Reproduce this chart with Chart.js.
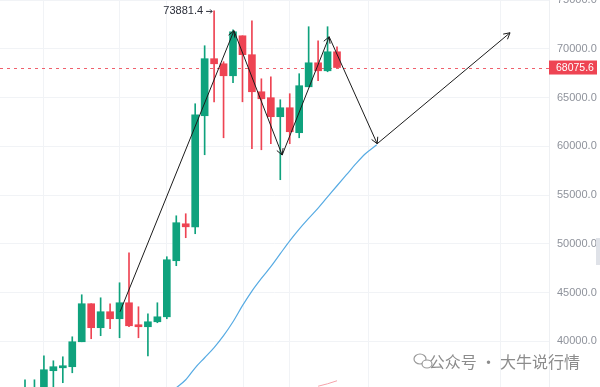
<!DOCTYPE html>
<html>
<head>
<meta charset="utf-8">
<script src="https://cdn.jsdelivr.net/npm/chart.js@4"></script>
<style>
html, body { margin: 0; padding: 0; background: #fff; }
#wrap { width: 600px; height: 387px; position: relative; }
</style>
</head>
<body>
<div id="wrap"><canvas id="chart" width="600" height="387"></canvas></div>
<script>
// candle data (index along the time axis)
const candleIdx = [0, 1, 2, 3, 4, 5, 6, 7, 8, 9, 10, 11, 12, 13, 14, 15, 16, 17, 18, 19, 20, 21, 22, 23, 24, 25, 26, 27, 28, 29, 30, 31, 32, 33];
const opens  = [34510, 34620, 34820, 36980, 37280, 37390, 39950, 43850, 41390, 43030, 42310, 43950, 41690, 41490, 42000, 42510, 48260, 52050, 51740, 63130, 68980, 68460, 67230, 71330, 69390, 65590, 64980, 63030, 63950, 61390, 66100, 68560, 67740, 69690];
const closes = [35130, 35230, 37080, 37390, 37490, 39950, 43850, 41390, 43030, 42310, 43950, 41590, 41490, 42000, 42510, 48360, 52160, 51740, 63230, 68980, 68460, 67230, 71740, 69390, 65590, 64870, 63030, 63950, 61490, 66210, 68560, 67740, 69690, 68075.6];
const highs  = [36050, 36050, 38510, 38000, 38410, 40460, 44770, 43850, 44460, 43850, 46000, 49080, 43540, 42820, 43950, 48670, 52870, 53080, 64360, 70310, 73881.4, 68670, 71950, 71330, 72870, 66920, 67130, 64770, 65390, 67440, 72260, 70820, 72260, 70210];
const lows   = [34210, 34000, 34210, 34820, 35750, 36770, 39950, 40260, 40570, 41280, 40360, 41490, 40360, 38510, 41900, 42310, 47750, 50620, 51030, 59130, 64560, 60870, 66510, 64560, 59740, 59640, 60260, 56570, 60260, 60870, 66100, 66720, 67640, 68050];

// blue moving average
const maIdx  = [16, 17, 18, 19, 20, 21, 22, 23, 24, 25, 26, 27, 28, 29, 30, 31, 32, 33, 34, 35, 36, 37.2];
const maVals = [35230, 36050, 37280, 38310, 39350, 40570, 42000, 43650, 45150, 46450, 47650, 48980, 50300, 51500, 52600, 53650, 54800, 55950, 57080, 58210, 59230, 60150];

// faint red average at the bottom
const pinkIdx  = [31, 32, 33];
const pinkVals = [35390, 35640, 35950];

// hand-drawn arrow path
const arrowIdx  = [10.05, 22.1, 27.2, 32.17, 37.25, 51.3];
const arrowVals = [43030, 71850, 59100, 71230, 60260, 71640];

const yTicks = [40000, 45000, 50000, 55000, 60000, 65000, 70000, 75000];
const xGrid = [2, 10, 15, 23.1, 28, 36.3, 50.3];
const lastPrice = 68075.6;
const highIdx = 20;
const highPrice = 73881.4;

const UP = "#0fa27d";
const DOWN = "#ee4453";

const candleColors = closes.map((c, i) => (c >= opens[i] ? UP : DOWN));

const overlayPlugin = {
  id: "overlay",
  beforeDatasetsDraw(chart) {
    const { ctx, chartArea, scales } = chart;
    const y = Math.round(scales.y.getPixelForValue(lastPrice)) + 0.5;
    ctx.save();
    ctx.strokeStyle = "#f0606c";
    ctx.lineWidth = 1;
    ctx.setLineDash([3, 4]);
    ctx.beginPath();
    ctx.moveTo(chartArea.left, y);
    ctx.lineTo(chartArea.right, y);
    ctx.stroke();
    ctx.restore();
  },
  afterDatasetsDraw(chart) {
    const { ctx, chartArea, scales } = chart;
    ctx.save();

    // arrowheads at the end of each drawn segment
    const pts = chart.getDatasetMeta(4).data;
    ctx.strokeStyle = "#1b1b1b";
    ctx.lineWidth = 1;
    for (let i = 1; i < pts.length; i++) {
      const a = pts[i - 1], b = pts[i];
      const ang = Math.atan2(b.y - a.y, b.x - a.x);
      const len = 7;
      ctx.beginPath();
      ctx.moveTo(b.x - len * Math.cos(ang - 0.5), b.y - len * Math.sin(ang - 0.5));
      ctx.lineTo(b.x, b.y);
      ctx.lineTo(b.x - len * Math.cos(ang + 0.5), b.y - len * Math.sin(ang + 0.5));
      ctx.stroke();
    }

    // high marker
    const hx = scales.x.getPixelForValue(highIdx);
    const hy = scales.y.getPixelForValue(highPrice);
    ctx.fillStyle = "#2a2e39";
    ctx.font = "11px 'Liberation Sans', Arial, sans-serif";
    ctx.textAlign = "right";
    ctx.textBaseline = "middle";
    ctx.fillText(highPrice.toFixed(1), hx - 11, hy);
    ctx.beginPath();
    ctx.moveTo(hx - 8, hy + 0.5);
    ctx.lineTo(hx - 2, hy + 0.5);
    ctx.moveTo(hx - 4, hy - 1.5);
    ctx.lineTo(hx - 2, hy + 0.5);
    ctx.lineTo(hx - 4, hy + 2.5);
    ctx.strokeStyle = "#2a2e39";
    ctx.stroke();

    // last price tag
    const py = scales.y.getPixelForValue(lastPrice);
    ctx.fillStyle = "#ee4453";
    ctx.fillRect(chartArea.right, py - 7, 48, 14);
    ctx.fillStyle = "#fff";
    ctx.textAlign = "left";
    ctx.font = "10.5px 'Liberation Sans', Arial, sans-serif";
    ctx.fillText(lastPrice.toFixed(1), chartArea.right + 7, py + 0.5);

    // side tab
    ctx.fillStyle = "#dfe2e8";
    ctx.fillRect(596, 238, 4, 27);

    // watermark
    ctx.fillStyle = "#8c8c8c";
    ctx.font = "16px 'Noto Sans CJK SC', sans-serif";
    ctx.textAlign = "right";
    ctx.fillText("公众号 · 大牛说行情", 580, 362);
    ctx.strokeStyle = "#9a9a9a";
    ctx.lineWidth = 1.2;
    ctx.beginPath();
    ctx.ellipse(420, 359, 6, 5, 0, 0, Math.PI * 2);
    ctx.stroke();
    ctx.beginPath();
    ctx.ellipse(427, 364, 5, 4, 0, 0, Math.PI * 2);
    ctx.fillStyle = "#fff";
    ctx.fill();
    ctx.stroke();
    ctx.restore();
  },
};

new Chart(document.getElementById("chart"), {
  type: "bar",
  data: {
    datasets: [
      {
        label: "wick",
        data: candleIdx.map((x, i) => ({ x, y: [lows[i], highs[i]] })),
        backgroundColor: candleColors,
        barThickness: 1,
        grouped: false,
        order: 3,
      },
      {
        label: "body",
        data: candleIdx.map((x, i) => ({ x, y: [opens[i], closes[i]] })),
        backgroundColor: candleColors,
        barThickness: 7,
        minBarLength: 2,
        grouped: false,
        order: 2,
      },
      {
        type: "line",
        label: "MA",
        data: maIdx.map((x, i) => ({ x, y: maVals[i] })),
        borderColor: "#57abe3",
        borderWidth: 1.2,
        pointRadius: 0,
        cubicInterpolationMode: "monotone",
        order: 1,
      },
      {
        type: "line",
        label: "MA2",
        data: pinkIdx.map((x, i) => ({ x, y: pinkVals[i] })),
        borderColor: "#f5a3aa",
        borderWidth: 1,
        pointRadius: 0,
        order: 1,
      },
      {
        type: "line",
        label: "path",
        data: arrowIdx.map((x, i) => ({ x, y: arrowVals[i] })),
        borderColor: "#1b1b1b",
        borderWidth: 1,
        pointRadius: 0,
        tension: 0,
        order: 0,
      },
    ],
  },
  options: {
    responsive: false,
    animation: false,
    layout: { padding: 0 },
    plugins: { legend: { display: false }, tooltip: { enabled: false } },
    scales: {
      x: {
        type: "linear",
        offset: false,
        min: -2.644,
        max: 55.42,
        grid: { color: "#f1f3f6", drawTicks: false, offset: false },
        border: { display: false },
        ticks: { display: false },
        afterBuildTicks: (s) => { s.ticks = xGrid.map((v) => ({ value: v })); },
        afterFit: (s) => { s.height = 0; s.paddingLeft = 0; s.paddingRight = 0; },
      },
      y: {
        position: "right",
        min: 35310,
        max: 75000,
        grid: { color: "#f1f3f6", drawTicks: false },
        border: { color: "#eef0f3" },
        ticks: {
          padding: 8,
          color: "#8e929b",
          font: { size: 11, family: "'Liberation Sans', Arial, sans-serif" },
          callback: (v) => Number(v).toFixed(1),
        },
        afterBuildTicks: (s) => { s.ticks = yTicks.map((v) => ({ value: v })); },
        afterFit: (s) => { s.width = 51; s.paddingTop = 0; s.paddingBottom = 0; },
      },
    },
  },
  plugins: [overlayPlugin],
});
</script>
</body>
</html>
